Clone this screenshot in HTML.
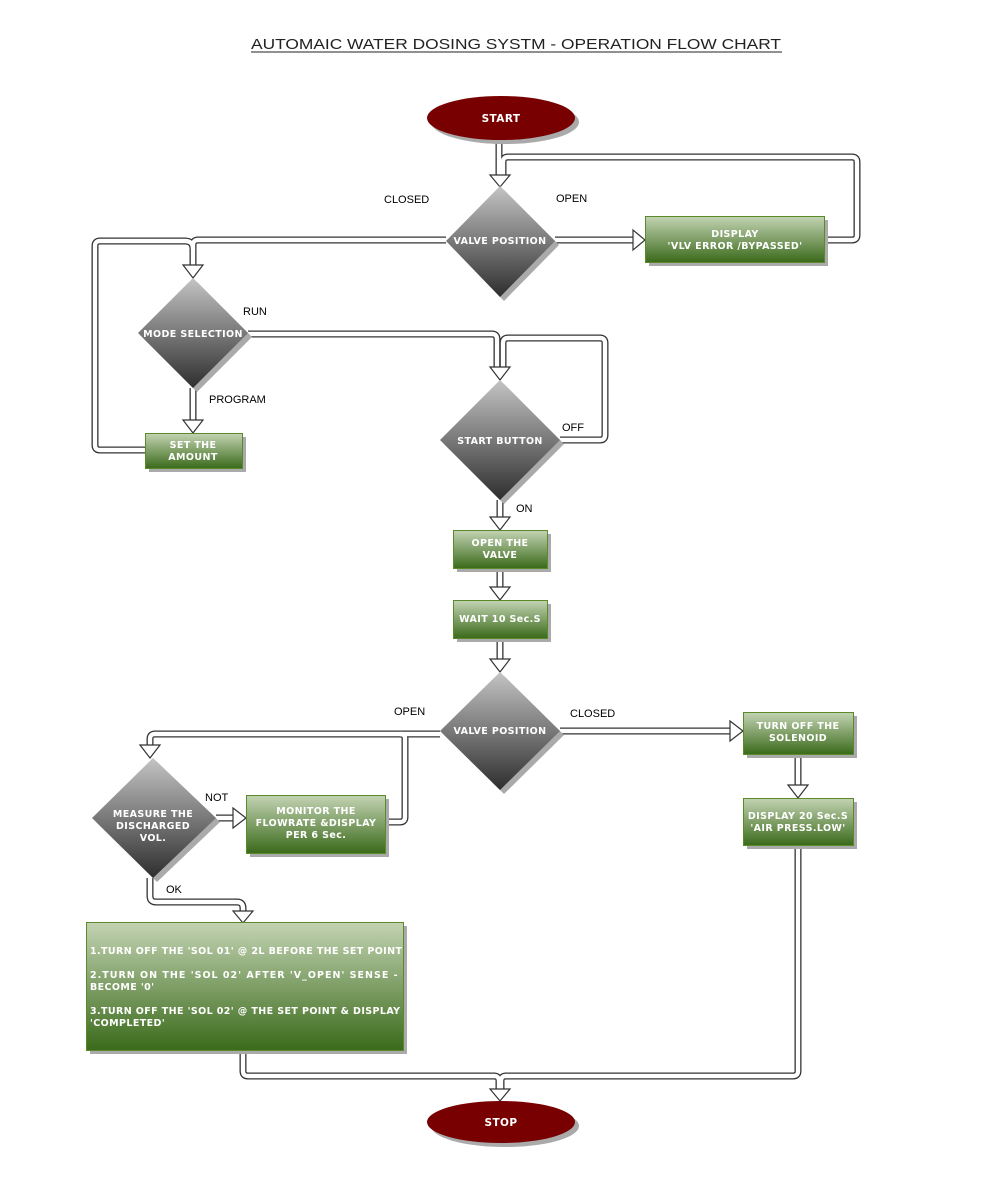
<!DOCTYPE html>
<html><head><meta charset="utf-8"><style>
body{margin:0;background:#fff;}
svg{display:block}
.t{font-family:"Liberation Sans",sans-serif;font-size:11px;fill:#000}
.w{font-family:"DejaVu Sans","Liberation Sans",sans-serif;font-size:9.5px;font-weight:bold;fill:#fff;text-anchor:middle;letter-spacing:0.4px}
.wl{font-family:"DejaVu Sans","Liberation Sans",sans-serif;font-size:9.5px;font-weight:bold;fill:#fff;letter-spacing:0.4px}
.ah{fill:#fff;stroke:#333;stroke-width:1.2}
</style></head><body>
<svg width="992" height="1200" viewBox="0 0 992 1200">
<defs>
<linearGradient id="dg" x1="0" y1="0" x2="0" y2="1"><stop offset="0" stop-color="#c4c4c4"/><stop offset="1" stop-color="#2e2e2e"/></linearGradient>
<linearGradient id="gg" x1="0" y1="0" x2="0" y2="1"><stop offset="0" stop-color="#c3d3b3"/><stop offset="1" stop-color="#3a6a1a"/></linearGradient>
</defs>
<text x="516" y="49" text-anchor="middle" textLength="530" lengthAdjust="spacingAndGlyphs" style="font-family:'Liberation Sans',sans-serif;font-size:15px;fill:#222">AUTOMAIC WATER DOSING SYSTM  - OPERATION FLOW CHART</text>
<line x1="251" y1="52" x2="782" y2="52" stroke="#222" stroke-width="1"/>

<g fill="none" stroke="#333" stroke-width="7" stroke-linejoin="round">
<path d="M499 140 V176"/>
<path d="M824 240 H852 Q857 240 857 235 V162 Q857 157 852 157 H508 Q503 157 503 162 V176"/>
<path d="M555 240 H634"/>
<path d="M446 240 H198 Q193 240 193 245 V266"/>
<path d="M145 450 H100 Q95 450 95 445 V246 Q95 241 100 241 H185 Q193 241 193 249"/>
<path d="M193 388 V421"/>
<path d="M248 334 H492 Q497 334 497 339 V368"/>
<path d="M560 440 H600 Q605 440 605 435 V343 Q605 338 600 338 H508 Q503 338 503 343 V368"/>
<path d="M500 500 V518"/>
<path d="M500 568 V588"/>
<path d="M500 638 V660"/>
<path d="M560 731 H731"/>
<path d="M798 754 V786"/>
<path d="M440 734 H155 Q150 734 150 739 V746"/>
<path d="M385 822 H400 Q405 822 405 817 V738 Q405 734 400 734"/>
<path d="M216 818 H234"/>
<path d="M150 878 V896 Q150 902 156 902 H237 Q243 902 243 908 V912"/>
<path d="M798 845 V1071 Q798 1076 793 1076 H506 Q501 1076 501 1081 V1090"/>
<path d="M243 1050 V1071 Q243 1076 248 1076 H494 Q499 1076 499 1081 V1090"/>
</g>
<g fill="none" stroke="#fff" stroke-width="4.4" stroke-linejoin="round">
<path d="M499 140 V176"/>
<path d="M824 240 H852 Q857 240 857 235 V162 Q857 157 852 157 H508 Q503 157 503 162 V176"/>
<path d="M555 240 H634"/>
<path d="M446 240 H198 Q193 240 193 245 V266"/>
<path d="M145 450 H100 Q95 450 95 445 V246 Q95 241 100 241 H185 Q193 241 193 249"/>
<path d="M193 388 V421"/>
<path d="M248 334 H492 Q497 334 497 339 V368"/>
<path d="M560 440 H600 Q605 440 605 435 V343 Q605 338 600 338 H508 Q503 338 503 343 V368"/>
<path d="M500 500 V518"/>
<path d="M500 568 V588"/>
<path d="M500 638 V660"/>
<path d="M560 731 H731"/>
<path d="M798 754 V786"/>
<path d="M440 734 H155 Q150 734 150 739 V746"/>
<path d="M385 822 H400 Q405 822 405 817 V738 Q405 734 400 734"/>
<path d="M216 818 H234"/>
<path d="M150 878 V896 Q150 902 156 902 H237 Q243 902 243 908 V912"/>
<path d="M798 845 V1071 Q798 1076 793 1076 H506 Q501 1076 501 1081 V1090"/>
<path d="M243 1050 V1071 Q243 1076 248 1076 H494 Q499 1076 499 1081 V1090"/>
</g>
<!-- arrowheads -->
<polygon class="ah" points="490,175 510,175 500,187"/>
<polygon class="ah" points="633,230 633,250 645,240"/>
<polygon class="ah" points="183,265 203,265 193,278"/>
<polygon class="ah" points="183,420 203,420 193,433"/>
<polygon class="ah" points="490,367 510,367 500,380"/>
<polygon class="ah" points="490,517 510,517 500,530"/>
<polygon class="ah" points="490,587 510,587 500,600"/>
<polygon class="ah" points="490,659 510,659 500,672"/>
<polygon class="ah" points="730,721 730,741 743,731"/>
<polygon class="ah" points="788,785 808,785 798,798"/>
<polygon class="ah" points="140,745 160,745 150,758"/>
<polygon class="ah" points="233,808 233,828 246,818"/>
<polygon class="ah" points="233,911 253,911 243,923"/>
<polygon class="ah" points="490,1089 510,1089 500,1101"/>

<!-- ellipses -->
<ellipse cx="505" cy="122" rx="74" ry="22" fill="#aaa"/>
<ellipse cx="501" cy="118" rx="74" ry="22" fill="#780000"/>
<text x="501" y="122" class="w" style="font-size:10.5px">START</text>
<ellipse cx="505" cy="1126" rx="74" ry="21" fill="#aaa"/>
<ellipse cx="501" cy="1122" rx="74" ry="21" fill="#780000"/>
<text x="501" y="1126" class="w" style="font-size:10.5px">STOP</text>

<!-- diamonds -->
<polygon points="504,190 559,245 504,301 450,245" fill="#aaa"/>
<polygon points="500,186 555,241 500,297 446,241" fill="url(#dg)"/>
<text x="500" y="244" class="w">VALVE POSITION</text>
<polygon points="197,282 252,337 197,392 142,337" fill="#aaa"/>
<polygon points="193,278 248,333 193,388 138,333" fill="url(#dg)"/>
<text x="193" y="337" class="w">MODE SELECTION</text>
<polygon points="504,384 564,444 504,504 444,444" fill="#aaa"/>
<polygon points="500,380 560,440 500,500 440,440" fill="url(#dg)"/>
<text x="500" y="444" class="w">START BUTTON</text>
<polygon points="504,676 564,735 504,794 444,735" fill="#aaa"/>
<polygon points="500,672 560,731 500,790 440,731" fill="url(#dg)"/>
<text x="500" y="734" class="w">VALVE POSITION</text>
<polygon points="157,762 220,822 157,882 96,822" fill="#aaa"/>
<polygon points="153,758 216,818 153,878 92,818" fill="url(#dg)"/>
<text x="153" y="817" class="w">MEASURE THE</text>
<text x="153" y="829" class="w">DISCHARGED</text>
<text x="153" y="841" class="w">VOL.</text>

<!-- boxes -->
<g stroke="#5a8a2a" stroke-width="1">
<rect x="649" y="220" width="179" height="46" fill="#aaa" stroke="none"/>
<rect x="645.5" y="216.5" width="179" height="46" fill="url(#gg)"/>
<rect x="149" y="437" width="97" height="35" fill="#aaa" stroke="none"/>
<rect x="145.5" y="433.5" width="97" height="35" fill="url(#gg)"/>
<rect x="457" y="534" width="94" height="38" fill="#aaa" stroke="none"/>
<rect x="453.5" y="530.5" width="94" height="38" fill="url(#gg)"/>
<rect x="457" y="604" width="94" height="38" fill="#aaa" stroke="none"/>
<rect x="453.5" y="600.5" width="94" height="38" fill="url(#gg)"/>
<rect x="747" y="716" width="110" height="42" fill="#aaa" stroke="none"/>
<rect x="743.5" y="712.5" width="110" height="42" fill="url(#gg)"/>
<rect x="747" y="802" width="110" height="47" fill="#aaa" stroke="none"/>
<rect x="743.5" y="798.5" width="110" height="47" fill="url(#gg)"/>
<rect x="250" y="799" width="139" height="58" fill="#aaa" stroke="none"/>
<rect x="246.5" y="795.5" width="139" height="58" fill="url(#gg)"/>
<rect x="90" y="926" width="317" height="128" fill="#aaa" stroke="none"/>
<rect x="86.5" y="922.5" width="317" height="128" fill="url(#gg)"/>
</g>
<text x="735" y="237" class="w">DISPLAY</text>
<text x="735" y="249" class="w">'VLV ERROR /BYPASSED'</text>
<text x="193" y="448" class="w">SET THE</text>
<text x="193" y="460" class="w">AMOUNT</text>
<text x="500" y="546" class="w">OPEN THE</text>
<text x="500" y="558" class="w">VALVE</text>
<text x="500" y="622" class="w">WAIT 10 Sec.S</text>
<text x="798" y="729" class="w">TURN OFF THE</text>
<text x="798" y="741" class="w">SOLENOID</text>
<text x="798" y="819" class="w">DISPLAY 20 Sec.S</text>
<text x="798" y="831" class="w">'AIR PRESS.LOW'</text>
<text x="316" y="814" class="w">MONITOR  THE</text>
<text x="316" y="826" class="w">FLOWRATE &amp;DISPLAY</text>
<text x="316" y="838" class="w">PER 6 Sec.</text>
<text x="90" y="954" class="wl">1.TURN OFF THE 'SOL 01' @ 2L BEFORE THE SET POINT</text>
<text x="90" y="978" class="wl" textLength="308">2.TURN ON THE 'SOL 02' AFTER 'V_OPEN' SENSE -</text>
<text x="90" y="990" class="wl">BECOME '0'</text>
<text x="90" y="1014" class="wl">3.TURN OFF THE 'SOL 02' @ THE SET POINT &amp; DISPLAY</text>
<text x="90" y="1026" class="wl">'COMPLETED'</text>

<!-- labels -->
<text x="384" y="203" class="t">CLOSED</text>
<text x="556" y="202" class="t">OPEN</text>
<text x="243" y="315" class="t">RUN</text>
<text x="209" y="403" class="t">PROGRAM</text>
<text x="562" y="431" class="t">OFF</text>
<text x="516" y="512" class="t">ON</text>
<text x="394" y="715" class="t">OPEN</text>
<text x="570" y="717" class="t">CLOSED</text>
<text x="205" y="801" class="t">NOT</text>
<text x="166" y="893" class="t">OK</text>
</svg>
</body></html>
